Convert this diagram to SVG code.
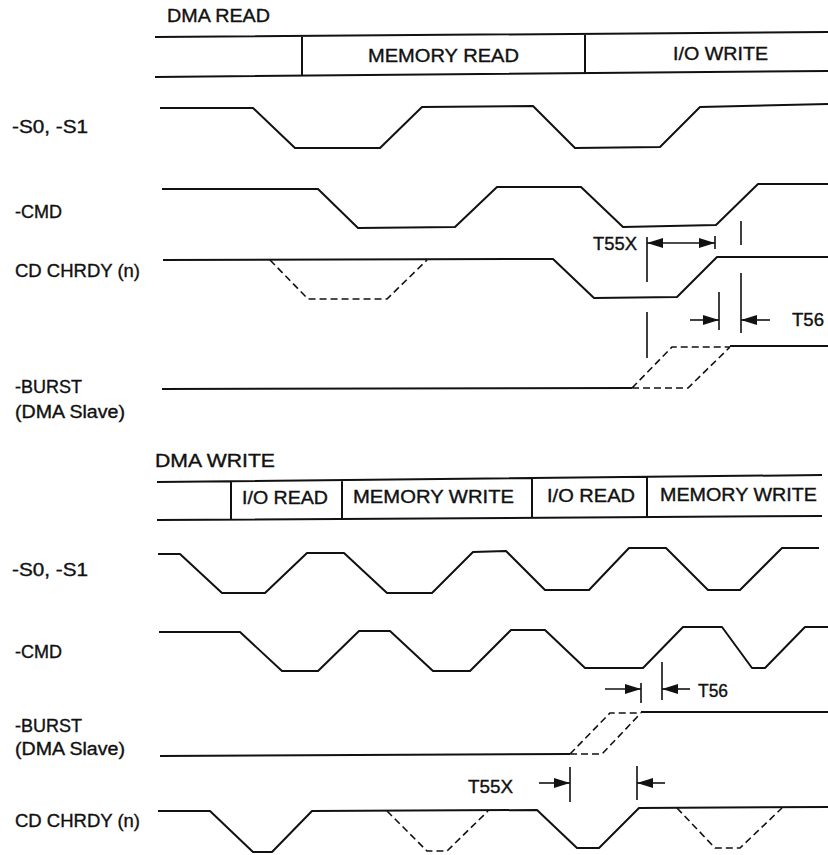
<svg xmlns="http://www.w3.org/2000/svg" width="828" height="855" viewBox="0 0 828 855">
<style>
text{font-family:"Liberation Sans",Arial,sans-serif;font-size:17.5px;fill:#111;stroke:#111;stroke-width:0.35}
.w{fill:none;stroke:#111;stroke-width:2;stroke-linejoin:round}
.d{fill:none;stroke:#111;stroke-width:1.6;stroke-dasharray:7 4}
.t{fill:none;stroke:#111;stroke-width:1.6}
.a{fill:none;stroke:#111;stroke-width:1.6;marker-end:url(#ah)}
</style>
<defs>
<marker id="ah" viewBox="0 0 16 10" refX="16" refY="5" markerWidth="16" markerHeight="10" markerUnits="userSpaceOnUse" orient="auto-start-reverse"><path d="M0,0 L16,5 L0,10 z" fill="#111"/></marker>
</defs>
<rect width="828" height="855" fill="#fff"/>

<!-- DMA READ -->
<g id="dma-read-title"><text x="167" y="22" textLength="103" lengthAdjust="spacingAndGlyphs">DMA READ</text></g>
<g id="read-bus">
<path class="w" d="M155,37 L828,32 M155,77 L828,71 M302,35 L302,76 M585,33 L585,73"/>
<text x="368" y="62" textLength="151" lengthAdjust="spacingAndGlyphs">MEMORY READ</text>
<text x="673" y="60" textLength="95" lengthAdjust="spacingAndGlyphs">I/O WRITE</text>
</g>
<g id="read-s0s1">
<text x="12" y="133" textLength="76" lengthAdjust="spacingAndGlyphs">-S0, -S1</text>
<path class="w" d="M160,108 L253,108 L295,148 L380,148 L422,107 L533,106 L575,148 L660,147 L700,107 L828,104"/>
</g>
<g id="read-cmd">
<text x="15" y="218" textLength="47" lengthAdjust="spacingAndGlyphs">-CMD</text>
<path class="w" d="M162,189 L318,189 L358,228 L455,227 L497,187 L581,187 L623,227 L716,225 L758,184 L828,184"/>
</g>
<g id="read-chrdy">
<text x="15" y="277" textLength="125" lengthAdjust="spacingAndGlyphs">CD CHRDY (n)</text>
<path class="w" d="M163,260 L553,259 L594,298 L677,297 L717,257 L828,257"/>
<path class="d" d="M270,260 L308,299 L387,299 L427,260"/>
</g>
<g id="read-burst">
<text x="15" y="393" textLength="67" lengthAdjust="spacingAndGlyphs">-BURST</text>
<text x="15" y="418" textLength="110" lengthAdjust="spacingAndGlyphs">(DMA Slave)</text>
<path class="w" d="M162,389 L632,388 M730,346 L828,346"/>
<path class="d" d="M632,388 L672,347 L730,347 M632,388 L688,388 L730,347"/>
</g>
<g id="read-t55x">
<text x="593" y="250" textLength="44" lengthAdjust="spacingAndGlyphs">T55X</text>
</g>
<g id="read-t56">
<text x="792" y="326" textLength="32" lengthAdjust="spacingAndGlyphs">T56</text>
</g>

<!-- DMA WRITE -->
<g id="dma-write-title"><text x="155" y="467" textLength="120" lengthAdjust="spacingAndGlyphs">DMA WRITE</text></g>
<g id="write-bus">
<path class="w" d="M157,482 L822,475 M157,520 L822,516 M231,481 L231,519 M342,480 L342,518 M532,478 L532,517 M647,477 L647,517"/>
<text x="242" y="504" textLength="86" lengthAdjust="spacingAndGlyphs">I/O READ</text>
<text x="353" y="503" textLength="161" lengthAdjust="spacingAndGlyphs">MEMORY WRITE</text>
<text x="547" y="502" textLength="88" lengthAdjust="spacingAndGlyphs">I/O READ</text>
<text x="660" y="501" textLength="157" lengthAdjust="spacingAndGlyphs">MEMORY WRITE</text>
</g>
<g id="write-s0s1">
<text x="12" y="576" textLength="76" lengthAdjust="spacingAndGlyphs">-S0, -S1</text>
<path class="w" d="M158,554 L180,554 L222,593 L265,593 L307,553 L344,553 L387,593 L432,593 L473,552 L506,551 L545,590 L589,590 L629,548 L666,548 L708,590 L740,590 L782,548 L819,548"/>
</g>
<g id="write-cmd">
<text x="15" y="658" textLength="47" lengthAdjust="spacingAndGlyphs">-CMD</text>
<path class="w" d="M159,632 L240,632 L282,671 L318,671 L359,631 L390,631 L433,671 L470,671 L511,630 L545,630 L585,668 L643,668 L683,627 L722,627 L752,668 L765,668 L805,627 L828,627"/>
</g>
<g id="write-burst">
<text x="15" y="732" textLength="67" lengthAdjust="spacingAndGlyphs">-BURST</text>
<text x="15" y="755" textLength="110" lengthAdjust="spacingAndGlyphs">(DMA Slave)</text>
<path class="w" d="M160,756 L570,754 M641,712 L828,712"/>
<path class="d" d="M570,754 L610,713 L641,713 M570,754 L602,754 L641,713"/>
</g>
<g id="write-chrdy">
<text x="15" y="827" textLength="125" lengthAdjust="spacingAndGlyphs">CD CHRDY (n)</text>
<path class="w" d="M158,811 L210,811 L253,852 L272,852 L312,811 L537,810 L577,848 L599,848 L639,808 L828,807"/>
<path class="d" d="M387,811 L427,851 L447,851 L488,811 M677,808 L715,848 L740,848 L782,808"/>
</g>
<g id="write-t56"><text x="698" y="697" textLength="30" lengthAdjust="spacingAndGlyphs">T56</text></g>
<g id="write-t55x"><text x="468" y="793" textLength="45" lengthAdjust="spacingAndGlyphs">T55X</text></g>

<g id="connectors">
<!-- read -->
<path class="t" d="M647,237 L647,282 M715,236 L715,249 M741,221 L741,245 M741,273 L741,333 M719,292 L719,330 M647,312 L647,358"/>
<path class="t" d="M647,243 L715,243" marker-start="url(#ah)" marker-end="url(#ah)"/>
<path class="a" d="M690,320 L719,320"/>
<path class="a" d="M770,320 L741,320"/>
<!-- write -->
<path class="t" d="M641,683 L641,703 M662,662 L662,700 M570,767 L570,802 M637,766 L637,800"/>
<path class="a" d="M605,689 L641,689"/>
<path class="a" d="M690,689 L662,689"/>
<path class="a" d="M539,783 L570,783"/>
<path class="a" d="M665,783 L637,783"/>
</g>
</svg>
